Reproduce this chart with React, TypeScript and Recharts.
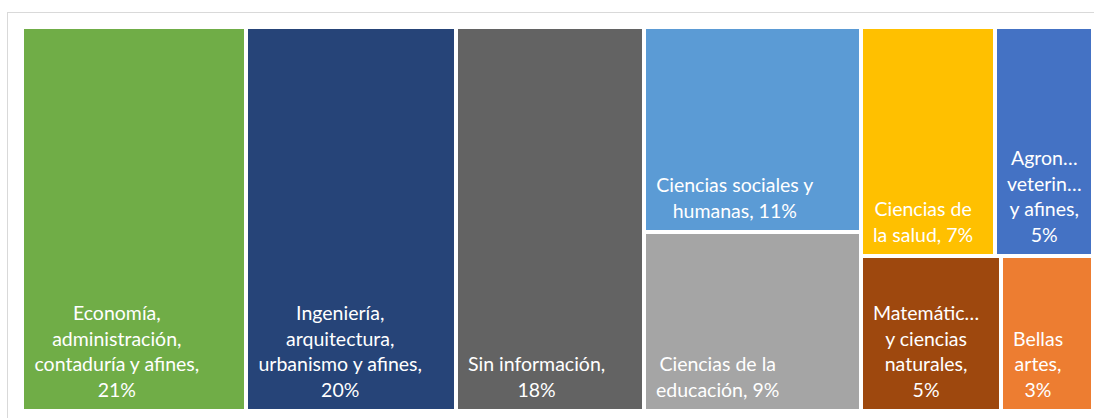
import { Treemap } from 'recharts'

const categories = [
  'Economía, administración, contaduría y afines',
  'Ingeniería, arquitectura, urbanismo y afines',
  'Sin información',
  'Ciencias sociales y humanas',
  'Ciencias de la educación',
  'Ciencias de la salud',
  'Agronomía, veterinaria y afines',
  'Matemáticas y ciencias naturales',
  'Bellas artes',
]
const shares = [20.92, 19.61, 17.55, 10.85, 9.45, 7.45, 5.45, 5.26, 3.46]
const colors = ['#70ad47', '#264478', '#636363', '#5b9bd5', '#a5a5a5', '#ffc000', '#4472c4', '#9e480e', '#ed7d31']
// label lines as printed in the cells ({p} = rounded percentage)
const labelLines = [
  ['Economía,', 'administración,', 'contaduría y afines,', '{p}'],
  ['Ingeniería,', 'arquitectura,', 'urbanismo y afines,', '{p}'],
  ['Sin información,', '{p}'],
  ['Ciencias sociales y', 'humanas, {p}'],
  ['Ciencias de la', 'educación, {p}'],
  ['Ciencias de', 'la salud, {p}'],
  ['Agron…', 'veterin…', 'y afines,', '{p}'],
  ['Matemátic…', 'y ciencias', 'naturales,', '{p}'],
  ['Bellas', 'artes,', '{p}'],
]

const FONT = 'Lato'
const FONT_SIZE = 19.5
const LINE_H = 25.6

const total = shares.reduce((a, b) => a + b, 0)

const cells = categories.map((name, i) => {
  const p = `${Math.round((shares[i] / total) * 100)}%`
  return {
    name,
    size: shares[i],
    color: colors[i],
    lines: labelLines[i].map(l => l.replace('{p}', p)),
  }
})

const [eco, ing, sin, soc, edu, salud, agro, mat, bellas] = cells

// grouping so the squarified layout keeps the column arrangement of the original
const tree = [
  eco,
  {
    name: 'g1',
    children: [
      ing,
      {
        name: 'g2',
        children: [
          sin,
          {
            name: 'g3',
            children: [
              { name: 'g4', children: [soc, edu] },
              {
                name: 'g5',
                children: [
                  { name: 'g5a', children: [salud, agro] },
                  { name: 'g5b', children: [mat, bellas] },
                ],
              },
            ],
          },
        ],
      },
    ],
  },
]

let ctx: CanvasRenderingContext2D | null = null
function textWidth(s: string) {
  if (!ctx) ctx = document.createElement('canvas').getContext('2d')
  if (!ctx) return s.length * FONT_SIZE * 0.5
  ctx.font = `${FONT_SIZE}px ${FONT}`
  return ctx.measureText(s).width
}

function TreemapCell(props: any) {
  const { x, y, width, height, color, lines } = props
  if (!color || !lines) return null
  const blockW = Math.max(...lines.map((l: string) => textWidth(l)))
  const cx = x + 12 + blockW / 2
  const lastBase = y + height - 14
  return (
    <g>
      <rect x={x} y={y} width={width} height={height} fill={color} stroke="#fff" strokeWidth={4} />
      <text fill="#fff" fontSize={FONT_SIZE} fontFamily={FONT} textAnchor="middle">
        {lines.map((l: string, i: number) => (
          <tspan key={i} x={cx} y={lastBase - (lines.length - 1 - i) * LINE_H}>
            {l}
          </tspan>
        ))}
      </text>
    </g>
  )
}

export default function App() {
  return (
    <div style={{ position: 'fixed', left: 0, top: 0, width: 1094, height: 418, overflow: 'hidden', background: '#fff' }}>
      <div style={{ position: 'absolute', left: 7, top: 12, width: 1100, height: 420, border: '1px solid #d9d9d9' }} />
      <div style={{ position: 'absolute', left: 22, top: 27 }}>
        <Treemap
          width={1071}
          height={384}
          data={tree}
          dataKey="size"
          aspectRatio={1}
          isAnimationActive={false}
          content={<TreemapCell />}
        />
      </div>
    </div>
  )
}
